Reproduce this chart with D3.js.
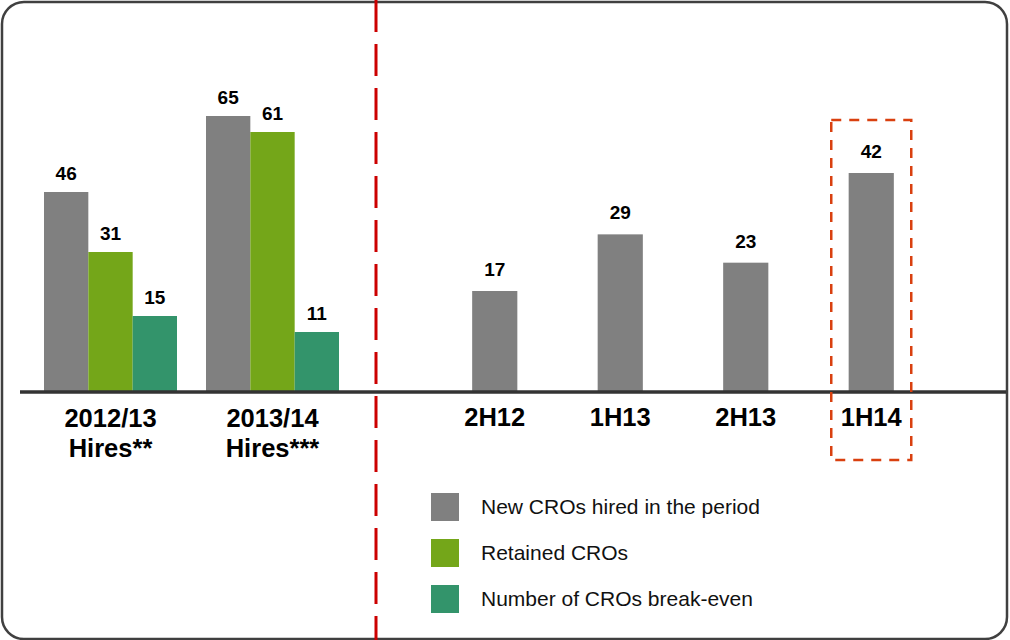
<!DOCTYPE html>
<html>
<head>
<meta charset="utf-8">
<script src="https://cdn.jsdelivr.net/npm/d3@7"></script>
<style>
  body { margin: 0; background: #fff; }
  svg { display: block; font-family: "Liberation Sans", Arial, sans-serif; }
</style>
</head>
<body>
<svg id="chart" width="1010" height="640"></svg>
<script>
// left panel: hires cohorts
const cohorts = ["2012/13\nHires**", "2013/14\nHires***"];
const seriesNames = ["New CROs hired in the period", "Retained CROs", "Number of CROs break-even"];
const newHired = [46, 65];
const retained = [31, 61];
const breakEven = [15, 11];

// right panel: half years
const halves = ["2H12", "1H13", "2H13", "1H14"];
const halfHired = [17, 29, 23, 42];

const colors = ["#808080", "#74a619", "#33946b"];

const svg = d3.select("#chart");
const baseY = 392;

// frame
svg.append("rect")
  .attr("x", 2).attr("y", 2)
  .attr("width", 1005).attr("height", 637)
  .attr("rx", 22).attr("ry", 22)
  .attr("fill", "#fff")
  .attr("stroke", "#404040")
  .attr("stroke-width", 2.5);

// scales (the original bars don't start exactly at zero, hence the offset domains)
const yLeft = d3.scaleLinear().domain([-4, 65]).range([baseY, 116]);
const yRight = d3.scaleLinear().domain([-4.4, 42]).range([baseY, 173]);

const x0 = d3.scaleBand().domain(cohorts).range([44, 339]).paddingInner(0.179).paddingOuter(0);
const x1 = d3.scaleBand().domain(d3.range(3)).range([0, x0.bandwidth()]);

const xr = d3.scaleBand().domain(halves).range([432, 934]).paddingInner(0.64).paddingOuter(0.32);

const leftRows = cohorts.map((c, i) => ({ c, vals: [newHired[i], retained[i], breakEven[i]] }));

const groups = svg.selectAll("g.cohort")
  .data(leftRows)
  .enter().append("g")
  .attr("class", "cohort")
  .attr("transform", d => `translate(${x0(d.c)},0)`);

groups.selectAll("rect")
  .data(d => d.vals)
  .enter().append("rect")
  .attr("x", (d, j) => x1(j))
  .attr("y", d => yLeft(d))
  .attr("width", x1.bandwidth())
  .attr("height", d => baseY - yLeft(d))
  .attr("fill", (d, j) => colors[j]);

groups.selectAll("text.val")
  .data(d => d.vals)
  .enter().append("text")
  .attr("class", "val")
  .attr("x", (d, j) => x1(j) + x1.bandwidth() / 2)
  .attr("y", d => yLeft(d) - 12)
  .attr("text-anchor", "middle")
  .attr("font-size", 19)
  .attr("font-weight", "bold")
  .text(d => d);

// cohort labels
cohorts.forEach(c => {
  const t = svg.append("text")
    .attr("x", x0(c) + x0.bandwidth() / 2)
    .attr("y", 427)
    .attr("text-anchor", "middle")
    .attr("font-size", 25.5)
    .attr("font-weight", "bold");
  c.split("\n").forEach((line, k) => {
    t.append("tspan")
      .attr("x", x0(c) + x0.bandwidth() / 2)
      .attr("dy", k === 0 ? 0 : 30)
      .text(line);
  });
});

// right bars
svg.selectAll("rect.half")
  .data(halves)
  .enter().append("rect")
  .attr("class", "half")
  .attr("x", d => xr(d))
  .attr("y", (d, i) => yRight(halfHired[i]))
  .attr("width", xr.bandwidth())
  .attr("height", (d, i) => baseY - yRight(halfHired[i]))
  .attr("fill", colors[0]);

svg.selectAll("text.halfval")
  .data(halves)
  .enter().append("text")
  .attr("class", "halfval")
  .attr("x", d => xr(d) + xr.bandwidth() / 2)
  .attr("y", (d, i) => yRight(halfHired[i]) - 15)
  .attr("text-anchor", "middle")
  .attr("font-size", 19)
  .attr("font-weight", "bold")
  .text((d, i) => halfHired[i]);

svg.selectAll("text.halflab")
  .data(halves)
  .enter().append("text")
  .attr("class", "halflab")
  .attr("x", d => xr(d) + xr.bandwidth() / 2)
  .attr("y", 426)
  .attr("text-anchor", "middle")
  .attr("font-size", 25.5)
  .attr("font-weight", "bold")
  .text(d => d);

// baseline
svg.append("line")
  .attr("x1", 20).attr("x2", 1006)
  .attr("y1", baseY).attr("y2", baseY)
  .attr("stroke", "#333")
  .attr("stroke-width", 3.5);

// red divider
svg.append("line")
  .attr("x1", 376).attr("x2", 376)
  .attr("y1", 0).attr("y2", 640)
  .attr("stroke", "#cc0000")
  .attr("stroke-width", 3)
  .attr("stroke-dasharray", "32,12");

// highlight box around last half
const last = halves[halves.length - 1];
svg.append("rect")
  .attr("x", xr(last) + xr.bandwidth() / 2 - 40)
  .attr("y", 120)
  .attr("width", 80)
  .attr("height", 340)
  .attr("fill", "none")
  .attr("stroke", "#d9400f")
  .attr("stroke-width", 2.5)
  .attr("stroke-dasharray", "10,8");

// legend
const legend = svg.selectAll("g.leg")
  .data(seriesNames)
  .enter().append("g")
  .attr("class", "leg")
  .attr("transform", (d, i) => `translate(431,${493 + i * 46})`);

legend.append("rect")
  .attr("width", 28).attr("height", 28)
  .attr("fill", (d, i) => colors[i]);

legend.append("text")
  .attr("x", 50).attr("y", 14)
  .attr("dy", "0.35em")
  .attr("font-size", 21)
  .attr("fill", "#111")
  .text(d => d);
</script>
</body>
</html>
